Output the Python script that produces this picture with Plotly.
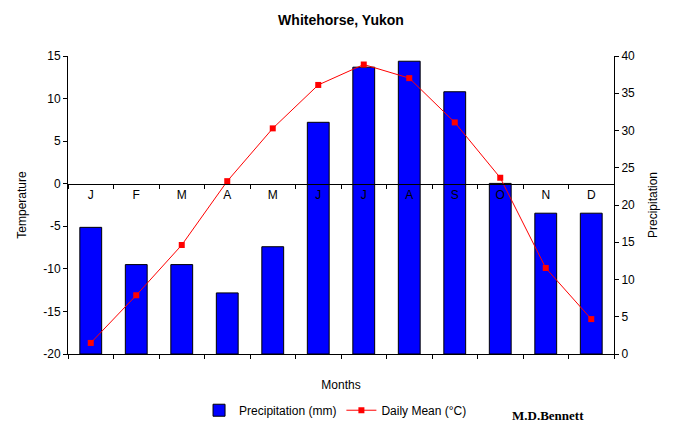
import plotly.graph_objects as go

months = ["J", "F", "M", "A", "M ", "J ", "J  ", "A ", "S", "O", "N", "D"]
month_labels = ["J", "F", "M", "A", "M", "J", "J", "A", "S", "O", "N", "D"]
precip_mm = [17, 12, 12, 8.2, 14.4, 31.1, 38.5, 39.3, 35.2, 22.9, 18.9, 18.9]
daily_mean_c = [-18.7, -13.1, -7.2, 0.3, 6.5, 11.6, 14.0, 12.4, 7.2, 0.7, -9.9, -15.9]
temp_ticks = [-20, -15, -10, -5, 0, 5, 10, 15]
temp_tick_labels = ["-20", "-15", "-10", "-5", "0", "5", "10", "15"]

font = "Liberation Sans, Arial, sans-serif"

fig = go.Figure()

fig.add_trace(go.Bar(
    name="Precipitation (mm)",
    x=months, y=precip_mm,
    xaxis="x", yaxis="y",
    width=0.48,
    marker=dict(color="#0000ff", line=dict(color="black", width=1)),
))

fig.add_trace(go.Scatter(
    name="Daily Mean (°C)",
    x=months, y=daily_mean_c,
    xaxis="x2", yaxis="y2",
    mode="lines+markers",
    line=dict(color="red", width=1),
    marker=dict(color="red", symbol="square", size=6),
))

fig.update_layout(
    width=676, height=432,
    margin=dict(l=68, r=62, t=56, b=78, autoexpand=False),
    paper_bgcolor="white", plot_bgcolor="white",
    font=dict(family=font, size=12, color="black"),
    title=dict(text="<b>Whitehorse, Yukon</b>", x=0.5, xref="paper",
               y=1 - 20 / 432, yref="container", yanchor="middle",
               font=dict(size=14)),
    showlegend=True,
    legend=dict(orientation="h", x=0.49, xanchor="center", y=-0.14, yanchor="top",
                font=dict(size=12), itemwidth=30, tracegroupgap=0),
    xaxis=dict(
        type="category", categoryarray=months, range=[-0.5, 11.5],
        showline=True, linecolor="black", linewidth=1, mirror=False,
        ticks="outside", ticklen=4, tickson="boundaries", tickcolor="black",
        showticklabels=False, showgrid=False, automargin=False,
        title=dict(text="Months", standoff=26, font=dict(size=12)),
    ),
    xaxis2=dict(
        type="category", categoryarray=months, range=[-0.5, 11.5],
        overlaying="x", anchor="free", position=20 / 35,
        showline=True, linecolor="black", linewidth=1,
        ticks="outside", ticklen=4, tickson="boundaries", tickcolor="black",
        tickvals=months, ticktext=month_labels, automargin=False,
        showgrid=False, side="bottom",
    ),
    yaxis=dict(
        range=[0, 40], dtick=5, side="right",
        showline=True, linecolor="black", linewidth=1,
        ticks="outside", ticklen=4, tickcolor="black",
        showgrid=False, zeroline=False, automargin=False,
        title=dict(text="Precipitation", standoff=14, font=dict(size=12)),
    ),
    yaxis2=dict(
        range=[-20, 15], tickvals=temp_ticks, ticktext=temp_tick_labels,
        side="left", overlaying="y", anchor="x",
        showline=True, linecolor="black", linewidth=1,
        ticks="outside", ticklen=4, tickcolor="black",
        showgrid=False, zeroline=False, automargin=False,
        title=dict(text="Temperature", standoff=14, font=dict(size=12)),
    ),
    annotations=[dict(
        text="<b>M.D.Bennett</b>", xref="paper", yref="paper",
        x=0.879, y=-0.205, xanchor="center", yanchor="middle", showarrow=False,
        font=dict(family="Liberation Serif, Times New Roman, serif", size=13),
    )],
)

fig.write_html("out.html", config={"displayModeBar": False},
               post_script="document.body.style.margin='0';")
